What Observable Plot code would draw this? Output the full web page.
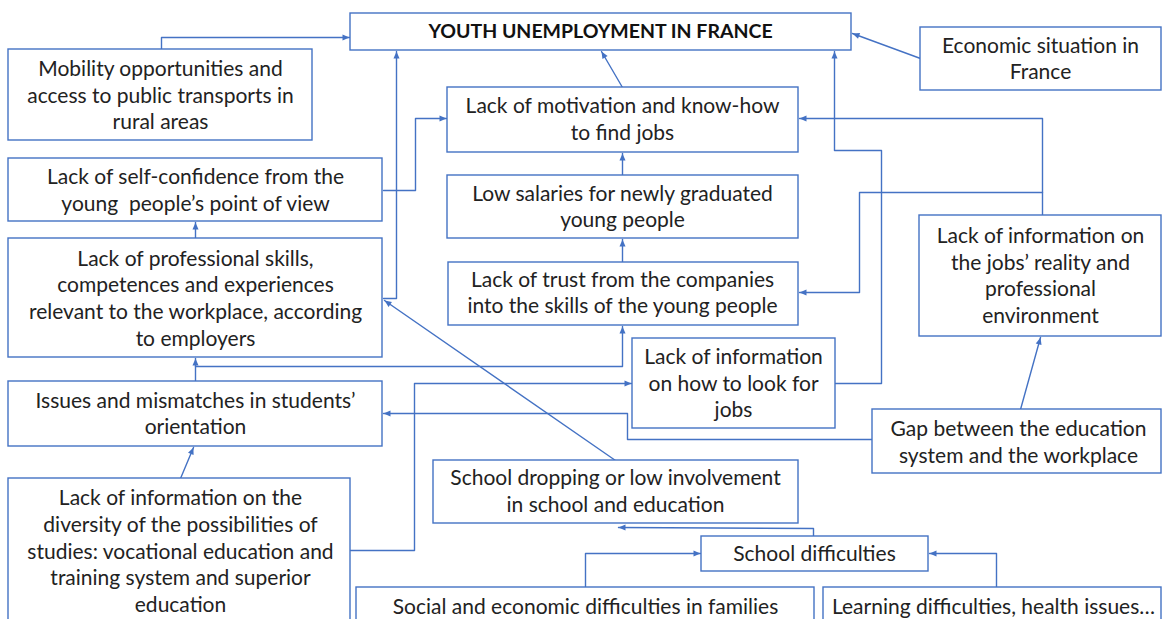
<!DOCTYPE html>
<html>
<head>
<meta charset="utf-8">
<script src="https://cdn.jsdelivr.net/npm/d3@7"></script>
<script src="https://cdn.jsdelivr.net/npm/@observablehq/plot@0.6"></script>
<style>
  html, body { margin: 0; padding: 0; background: #ffffff; overflow: hidden; }
</style>
</head>
<body>
<div id="chart"></div>
<script>
// ---- Diagram data (diagram units = page pixels) ----
const labels = [
  "YOUTH UNEMPLOYMENT IN FRANCE",
  "Economic situation in\nFrance",
  "Mobility opportunities and\naccess to public transports in\nrural areas",
  "Lack of motivation and know-how\nto find jobs",
  "Lack of self-confidence from the\nyoung  people’s point of view",
  "Low salaries for newly graduated\nyoung people",
  "Lack of professional skills,\ncompetences and experiences\nrelevant to the workplace, according\nto employers",
  "Lack of trust from the companies\ninto the skills of the young people",
  "Lack of information on\nthe jobs’ reality and\nprofessional\nenvironment",
  "Lack of information\non how to look for\njobs",
  "Issues and mismatches in students’\norientation",
  "Gap between the education\nsystem and the workplace",
  "Lack of information on the\ndiversity of the possibilities of\nstudies: vocational education and\ntraining system and superior\neducation",
  "School dropping or low involvement\nin school and education",
  "School difficulties",
  "Social and economic difficulties in families",
  "Learning difficulties, health issues…"
];

// node box extents [x1, y1, x2, y2]
const boxes = [
  [350, 13, 851, 50],
  [920, 27, 1161, 90],
  [8, 49, 312, 140],
  [447, 87, 798, 152],
  [8, 158, 382, 221],
  [447, 175, 798, 238],
  [8, 238, 382, 357],
  [448, 262, 798, 325],
  [919, 215, 1161, 336],
  [632, 338, 835, 428],
  [8, 381, 382, 446],
  [872, 409, 1161, 473],
  [8, 478, 350, 640],
  [433, 460, 798, 523],
  [701, 536, 928, 571],
  [356, 587, 814, 640],
  [823, 587, 1161, 640]
];

// label anchor (centre of text block)
const labelAt = [
  [600, 31], [1040, 57], [160, 93.5], [622, 117.5], [195, 188.5], [622, 205],
  [195, 296.5], [622, 291], [1040, 274], [733, 381.5], [195, 412], [1018, 440.5],
  [180, 549.5], [615, 489.5], [814, 551.5], [585, 604.5], [993, 604.5]
];

// connectors: polyline vertices, the last one is the arrow tip
const connectors = [
  [[161, 49], [161, 37], [349, 37]],
  [[920, 58], [852, 33]],
  [[622, 87], [601, 51]],
  [[383, 298], [396, 298], [396, 51]],
  [[383, 190], [415, 190], [415, 118], [446, 118]],
  [[622, 175], [622, 153]],
  [[622, 262], [622, 239]],
  [[1042, 215], [1042, 118], [799, 118]],
  [[1042, 192], [859, 192], [859, 292], [799, 292]],
  [[835, 383], [881, 383], [881, 150], [834, 150], [834, 51]],
  [[195, 238], [195, 222]],
  [[195, 381], [195, 358]],
  [[195, 366], [622, 366], [622, 326]],
  [[872, 439], [627, 439], [627, 413], [383, 413]],
  [[1020, 409], [1040, 337]],
  [[180, 478], [193, 447]],
  [[350, 550], [414, 550], [414, 383], [631, 383]],
  [[615, 460], [384, 300]],
  [[813, 536], [813, 528], [618, 527]],
  [[585, 587], [585, 553], [700, 553]],
  [[996, 587], [996, 553], [929, 553]]
];

// ---- Build tables for Plot ----
const nodes = labels.map((t, i) => ({
  text: t,
  x1: boxes[i][0], y1: boxes[i][1], x2: boxes[i][2], y2: boxes[i][3],
  tx: labelAt[i][0], ty: labelAt[i][1]
}));
const linePts = connectors.flatMap((pts, id) => pts.map(([x, y]) => ({id, x, y})));
const heads = connectors.map(pts => {
  const [ax, ay] = pts[pts.length - 2];
  const [bx, by] = pts[pts.length - 1];
  return {x: bx, y: by, angle: Math.atan2(bx - ax, -(by - ay)) * 180 / Math.PI};
});

const arrowHead = {
  draw(context) {
    const L = 7, W = 3;
    context.moveTo(0, 0);
    context.lineTo(W, L);
    context.lineTo(-W, L);
    context.closePath();
  }
};

const BLUE = "#4472C4";
const FONT = "Lato, 'Open Sans', sans-serif";

const chart = Plot.plot({
  width: 1162,
  height: 619,
  margin: 0,
  style: {background: "#ffffff", overflow: "hidden", fontFamily: FONT},
  x: {domain: [0, 1162], range: [0, 1162], axis: null},
  y: {domain: [0, 619], range: [0, 619], axis: null},
  marks: [
    Plot.line(linePts, {x: "x", y: "y", z: "id", stroke: BLUE, strokeWidth: 1.4, curve: "linear"}),
    Plot.rect(nodes, {x1: "x1", x2: "x2", y1: "y1", y2: "y2", fill: "#ffffff", stroke: BLUE, strokeWidth: 1.4}),
    Plot.dot(heads, {x: "x", y: "y", rotate: "angle", symbol: arrowHead, fill: BLUE, stroke: "none", r: 3}),
    Plot.text(nodes.slice(1), {x: "tx", y: "ty", text: "text", fontSize: 21, lineHeight: 1.27,
      fill: "#222222", fontFamily: FONT, textAnchor: "middle", lineAnchor: "middle"}),
    Plot.text(nodes.slice(0, 1), {x: "tx", y: "ty", text: "text", fontSize: 19.5, fontWeight: "bold",
      fill: "#111111", fontFamily: FONT, textAnchor: "middle", lineAnchor: "middle"})
  ]
});
document.getElementById("chart").appendChild(chart);
</script>
</body>
</html>
